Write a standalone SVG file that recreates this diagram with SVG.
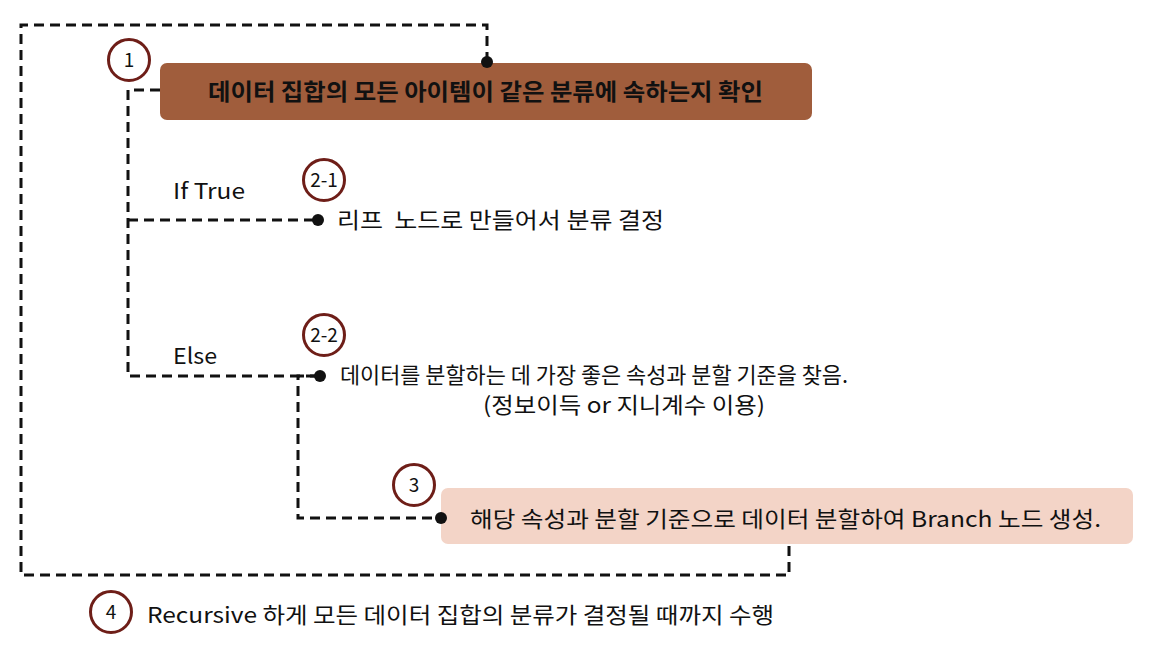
<svg xmlns="http://www.w3.org/2000/svg" width="1152" height="666" viewBox="0 0 1152 666">
<style>
  text { font-family: "Noto Sans CJK KR", "Noto Sans", sans-serif; fill: #111; }
  .lbl { font-size: 22px; }
  .bold { font-size: 23px; font-weight: bold; }
  .num { font-size: 19px; text-anchor: middle; }
  .ring { fill: #fff; stroke: #6e1e18; stroke-width: 3; }
  .dash { fill: none; stroke: #111; stroke-width: 3; stroke-dasharray: 10 6; }
  .dot { fill: #111; }
</style>
<rect width="1152" height="666" fill="#fff"/>
<g id="connectors">
  <path class="dash" d="M487 62 V25 H21 V575 H789 V546"/>
  <path class="dash" d="M160 90 H128 V376 H320"/>
  <path class="dash" d="M128 220 H318"/>
  <path class="dash" d="M320 376 H298 V518 H441"/>
</g>
<g id="node1">
  <rect x="160" y="63" width="652" height="57" rx="7" fill="#a05d3c"/>
  <text class="bold" x="485.5" y="100" text-anchor="middle" textLength="555" lengthAdjust="spacingAndGlyphs">데이터 집합의 모든 아이템이 같은 분류에 속하는지 확인</text>
  <circle class="ring" cx="129" cy="60" r="20.5"/>
  <text class="num" x="129" y="67">1</text>
  <circle class="dot" cx="487" cy="62" r="6"/>
</g>
<g id="node2-1">
  <text class="lbl" x="173" y="199" textLength="72" lengthAdjust="spacingAndGlyphs">If True</text>
  <circle class="ring" cx="324" cy="180" r="20.5"/>
  <text class="num" x="324" y="187">2-1</text>
  <circle class="dot" cx="318" cy="220" r="6"/>
  <text class="lbl" x="337" y="228" xml:space="preserve" textLength="327" lengthAdjust="spacingAndGlyphs">리프  노드로 만들어서 분류 결정</text>
</g>
<g id="node2-2">
  <text class="lbl" x="173" y="364" textLength="44" lengthAdjust="spacingAndGlyphs">Else</text>
  <circle class="ring" cx="324" cy="335" r="20.5"/>
  <text class="num" x="324" y="342">2-2</text>
  <circle class="dot" cx="320" cy="376" r="6"/>
  <text class="lbl" x="340" y="383" textLength="508" lengthAdjust="spacingAndGlyphs">데이터를 분할하는 데 가장 좋은 속성과 분할 기준을 찾음.</text>
  <text class="lbl" x="483" y="413" textLength="282" lengthAdjust="spacingAndGlyphs">(정보이득 or 지니계수 이용)</text>
</g>
<g id="node3">
  <rect x="441" y="488" width="692" height="56" rx="7" fill="#f3d4c7"/>
  <circle class="ring" cx="414" cy="485" r="20.5"/>
  <text class="num" x="414" y="492">3</text>
  <circle class="dot" cx="441" cy="518" r="6"/>
  <text class="lbl" x="470" y="527" textLength="631" lengthAdjust="spacingAndGlyphs">해당 속성과 분할 기준으로 데이터 분할하여 Branch 노드 생성.</text>
</g>
<g id="node4">
  <circle class="ring" cx="111" cy="612" r="20.5"/>
  <text class="num" x="111" y="619">4</text>
  <text class="lbl" x="147" y="623" textLength="627" lengthAdjust="spacingAndGlyphs">Recursive 하게 모든 데이터 집합의 분류가 결정될 때까지 수행</text>
</g>
</svg>
